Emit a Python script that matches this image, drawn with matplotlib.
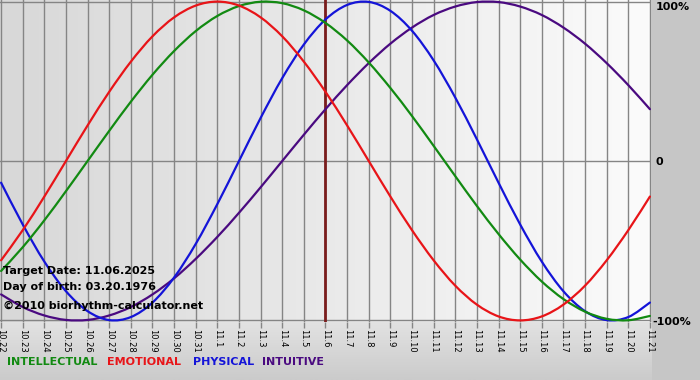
import numpy as np
import matplotlib
matplotlib.use("Agg")
import matplotlib.pyplot as plt
from matplotlib.colors import LinearSegmentedColormap
from matplotlib.path import Path
from matplotlib.patches import PathPatch

# ---- data: daily biorhythm values (fraction of 100%) ----
dates = ["10.22", "10.23", "10.24", "10.25", "10.26", "10.27", "10.28", "10.29",
         "10.30", "10.31", "11.1", "11.2", "11.3", "11.4", "11.5", "11.6", "11.7",
         "11.8", "11.9", "11.10", "11.11", "11.12", "11.13", "11.14", "11.15",
         "11.16", "11.17", "11.18", "11.19", "11.20", "11.21"]
physical = [-0.136, -0.398, -0.631, -0.817, -0.942, -0.998, -0.979, -0.888, -0.731,
            -0.520, -0.270, 0.000, 0.270, 0.520, 0.731, 0.888, 0.979, 0.998, 0.942,
            0.817, 0.631, 0.398, 0.136, -0.136, -0.398, -0.631, -0.817, -0.942,
            -0.998, -0.979, -0.888]
emotional = [-0.623, -0.434, -0.223, 0.000, 0.223, 0.434, 0.623, 0.782, 0.901, 0.975,
             1.000, 0.975, 0.901, 0.782, 0.623, 0.434, 0.223, 0.000, -0.223, -0.434,
             -0.623, -0.782, -0.901, -0.975, -1.000, -0.975, -0.901, -0.782, -0.623,
             -0.434, -0.223]
intellectual = [-0.690, -0.541, -0.372, -0.189, 0.000, 0.189, 0.372, 0.541, 0.690,
                0.815, 0.910, 0.972, 0.999, 0.990, 0.945, 0.866, 0.756, 0.618, 0.458,
                0.282, 0.095, -0.095, -0.282, -0.458, -0.618, -0.756, -0.866, -0.945,
                -0.990, -0.999, -0.972]
intuitive = [-0.837, -0.916, -0.969, -0.997, -0.997, -0.969, -0.916, -0.837, -0.736,
             -0.614, -0.476, -0.325, -0.165, 0.000, 0.165, 0.325, 0.476, 0.614, 0.736,
             0.837, 0.916, 0.969, 0.997, 0.997, 0.969, 0.916, 0.837, 0.736, 0.614,
             0.476, 0.325]
target_idx = 15  # 11.6

C_INT, C_EMO, C_PHY, C_ITU = "#128a12", "#e81418", "#1414d8", "#4a0a80"

W, H = 700, 380
fig = plt.figure(figsize=(7, 3.8), dpi=100)
fig.patch.set_facecolor("#c6c6c6")

def px(x0, y0, w, h):
    return [x0 / W, 1 - (y0 + h) / H, w / W, h / H]

def curve(ax, xs, ys, color):
    # smooth curve through the daily points (cardinal spline, like DrawCurve)
    P = np.column_stack([xs, ys]).astype(float)
    Q = np.vstack([P[0], P, P[-1]])
    verts, codes = [P[0]], [Path.MOVETO]
    for i in range(len(P) - 1):
        p0, p1, p2, p3 = Q[i], Q[i + 1], Q[i + 2], Q[i + 3]
        verts += [p1 + (p2 - p0) / 6, p2 - (p3 - p1) / 6, p2]
        codes += [Path.CURVE4] * 3
    ax.add_patch(PathPatch(Path(verts, codes), fc="none", ec=color, lw=1.6, zorder=3,
                           capstyle="round", joinstyle="round"))

# bottom band with a soft vertical gradient
bg = fig.add_axes(px(0, 322, 652, 58), zorder=0)
bg.imshow(np.linspace(0, 1, 50)[:, None], aspect="auto", extent=[0, 1, 0, 1],
          cmap=LinearSegmentedColormap.from_list("b", ["#e2e2e2", "#cbcbcb"]))
bg.axis("off")

ax = fig.add_axes(px(0, 0, 651, 322), zorder=1)
x = np.arange(len(dates))
ax.set_xlim(-0.05, 30.05)
ax.set_ylim(-1.01, 1.01)

# horizontal grey-to-white gradient in the plot area
ax.imshow(np.linspace(0, 1, 200)[None, :], aspect="auto", extent=[-0.05, 30.05, -1.01, 1.01],
          cmap=LinearSegmentedColormap.from_list("g", ["#d8d8d8", "#fbfbfb"]), zorder=0)

for xi in x:
    ax.axvline(xi, color="#858585", lw=1.0, zorder=1)
for yv in (1.0, 0.0, -1.0):
    ax.axhline(yv, color="#858585", lw=1.0, zorder=1)

ax.axvline(target_idx, color="#7a1c1c", lw=2.0, zorder=2)

curve(ax, x, intuitive, C_ITU)
curve(ax, x, physical, C_PHY)
curve(ax, x, intellectual, C_INT)
curve(ax, x, emotional, C_EMO)

for s in ax.spines.values():
    s.set_visible(False)
ax.set_yticks([])
ax.set_xticks(x)
ax.set_xticklabels(dates, rotation=270, fontsize=6, color="black")
ax.tick_params(axis="x", length=4, width=1, color="#858585", pad=1)

# texts inside the plot
bold = dict(fontsize=8, fontweight="bold", color="black", va="center", ha="left")
ax.text(3 / 651, 1 - 271 / 322, "Target Date: 11.06.2025", transform=ax.transAxes, zorder=4, **bold)
ax.text(3 / 651, 1 - 287 / 322, "Day of birth: 03.20.1976", transform=ax.transAxes, zorder=4, **bold)
ax.text(3 / 651, 1 - 306 / 322, "\u00a92010 biorhythm-calculator.net", transform=ax.transAxes,
        zorder=4, **bold)

# right-hand percent labels
fig.text(656 / W, 1 - 7 / H, "100%", fontsize=8, fontweight="bold", va="center", ha="left")
fig.text(656 / W, 1 - 162 / H, "0", fontsize=8, fontweight="bold", va="center", ha="left")
fig.text(652 / W, 1 - 322 / H, "-100%", fontsize=8, fontweight="bold", va="center", ha="left")

# legend row
yl = 1 - 362 / H
fig.text(7 / W, yl, "INTELLECTUAL", color=C_INT, fontsize=8, fontweight="bold", va="center")
fig.text(107 / W, yl, "EMOTIONAL", color=C_EMO, fontsize=8, fontweight="bold", va="center")
fig.text(193 / W, yl, "PHYSICAL", color=C_PHY, fontsize=8, fontweight="bold", va="center")
fig.text(262 / W, yl, "INTUITIVE", color=C_ITU, fontsize=8, fontweight="bold", va="center")

fig.savefig("out.png", dpi=100, facecolor=fig.get_facecolor())
